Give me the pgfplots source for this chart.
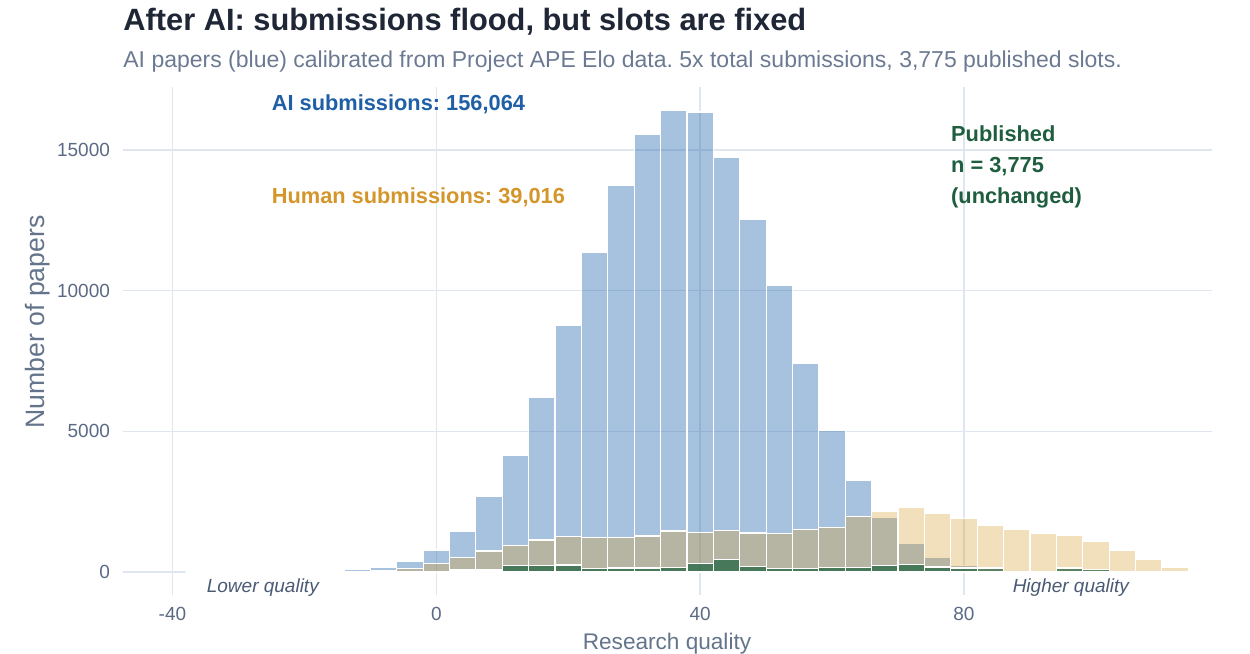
\documentclass[border=0pt]{standalone}
\usepackage{pgfplots}
\pgfplotsset{compat=1.18}
\usepackage{pgfplotstable}
\usepackage{fontspec}
\setmainfont{Liberation Sans}
\frenchspacing
\definecolor{aiblue}{HTML}{2166AC}
\definecolor{humanor}{HTML}{D69B2A}
\definecolor{pubgreen}{HTML}{1B5E3B}
\definecolor{titlec}{HTML}{1F2636}
\definecolor{subc}{HTML}{6B7A92}
\definecolor{tickc}{HTML}{5B6A84}
\definecolor{labc}{HTML}{64748B}
\definecolor{qualc}{HTML}{4B5A74}
\definecolor{gridc}{HTML}{DFE6EF}
\definecolor{aitext}{HTML}{1F5FA6}
\definecolor{humtext}{HTML}{D4962A}
\definecolor{pubtext}{HTML}{1E5E3E}

\pgfplotstableread{
x ai
-36 0
-32 0
-28 0
-24 0
-20 0
-16 0
-12 100
-8 160
-4 390
0 780
4 1457
8 2690
12 4150
16 6220
20 8780
24 11370
28 13750
32 15560
36 16413
40 16353
44 14742
48 12525
52 10180
56 7430
60 5040
64 3270
68 1930
72 1020
76 533
80 225
84 0
88 50
}\aidata

\pgfplotstableread{
x human
-8 60
-4 130
0 300
4 510
8 746
12 935
16 1140
20 1256
24 1233
28 1220
32 1280
36 1457
40 1410
44 1480
48 1386
52 1362
56 1517
60 1588
64 1980
68 2170
72 2287
76 2097
80 1908
84 1659
88 1505
92 1362
96 1303
100 1090
104 758
108 438
112 178
116 70
}\humdata

\pgfplotstableread{
x pub
4 70
8 70
12 220
16 220
20 250
24 125
28 140
32 140
36 150
40 290
44 440
48 190
52 110
56 110
60 165
64 165
68 220
72 270
76 180
80 140
84 140
88 0
92 0
96 140
100 90
}\pubdata

\begin{document}
\begin{tikzpicture}
\useasboundingbox (0,0) rectangle (625pt,-327pt);
\begin{axis}[
  at={(61.5pt,-297.5pt)}, anchor=south west,
  scale only axis, width=544.5pt, height=254pt,
  xmin=-47.5, xmax=117.6, ymin=-818, ymax=17240,
  axis line style={draw=none},
  major tick length=0pt,
  xtick={-40,0,40,80}, ytick={0,5000,10000,15000},
  grid=major,
  major grid style={draw=gridc, line width=0.8pt},
  scaled y ticks=false,
  /pgf/number format/.cd, 1000 sep={}, assume math mode=true,
  /pgfplots/.cd,
  ticklabel style={font=\fontsize{9.5}{11}\selectfont, text=tickc},
  yticklabel style={xshift=-3pt},
  xticklabel style={yshift=-2.5pt},
  clip=true,
]
\addplot[ybar, bar width=4, bar shift=0pt, fill=aiblue, fill opacity=0.4, draw=white, line width=0.6pt] table[x=x,y=ai]{\aidata};
\addplot[ybar, bar width=4, bar shift=0pt, fill=humanor, fill opacity=0.32, draw=white, line width=0.6pt] table[x=x,y=human]{\humdata};
\addplot[ybar, bar width=4, bar shift=0pt, fill=pubgreen, fill opacity=0.7, draw=white, line width=0.6pt] table[x=x,y=pub]{\pubdata};

\node[anchor=base west, inner sep=0, font=\fontsize{10.9}{13}\selectfont\bfseries, text=aitext] at (axis cs:-25,16396) {AI submissions: 156,064};
\node[anchor=base west, inner sep=0, font=\fontsize{10.9}{13}\selectfont\bfseries, text=humtext] at (axis cs:-25,13082) {Human submissions: 39,016};
\node[anchor=base west, inner sep=0, font=\fontsize{10.9}{13}\selectfont\bfseries, text=pubtext] at (axis cs:78,15295) {Published};
\node[anchor=base west, inner sep=0, font=\fontsize{10.9}{13}\selectfont\bfseries, text=pubtext] at (axis cs:78,14194) {n = 3,775};
\node[anchor=base west, inner sep=0, font=\fontsize{10.9}{13}\selectfont\bfseries, text=pubtext] at (axis cs:78,13090) {(unchanged)};
\node[anchor=base, inner sep=0, font=\fontsize{9.5}{11}\selectfont\itshape, text=qualc] at (axis cs:-26.3,-735) {Lower quality};
\node[anchor=base, inner sep=0, font=\fontsize{9.5}{11}\selectfont\itshape, text=qualc] at (axis cs:96.2,-745) {Higher quality};
\end{axis}

\node[anchor=base west, inner sep=0, font=\fontsize{15.4}{18}\selectfont\bfseries, text=titlec] at (61.5pt,-15pt) {After AI: submissions flood, but slots are fixed};
\node[anchor=base west, inner sep=0, font=\fontsize{11.5}{13}\selectfont, text=subc] at (61.5pt,-33.5pt) {AI papers (blue) calibrated from Project APE Elo data. 5x total submissions, 3,775 published slots.};
\node[rotate=90, inner sep=0, font=\fontsize{13.3}{15}\selectfont, text=labc] at (19pt,-161pt) {Number of papers};
\node[anchor=base, inner sep=0, font=\fontsize{11.3}{13}\selectfont, text=labc] at (333.5pt,-324.6pt) {Research quality};
\end{tikzpicture}
\end{document}
